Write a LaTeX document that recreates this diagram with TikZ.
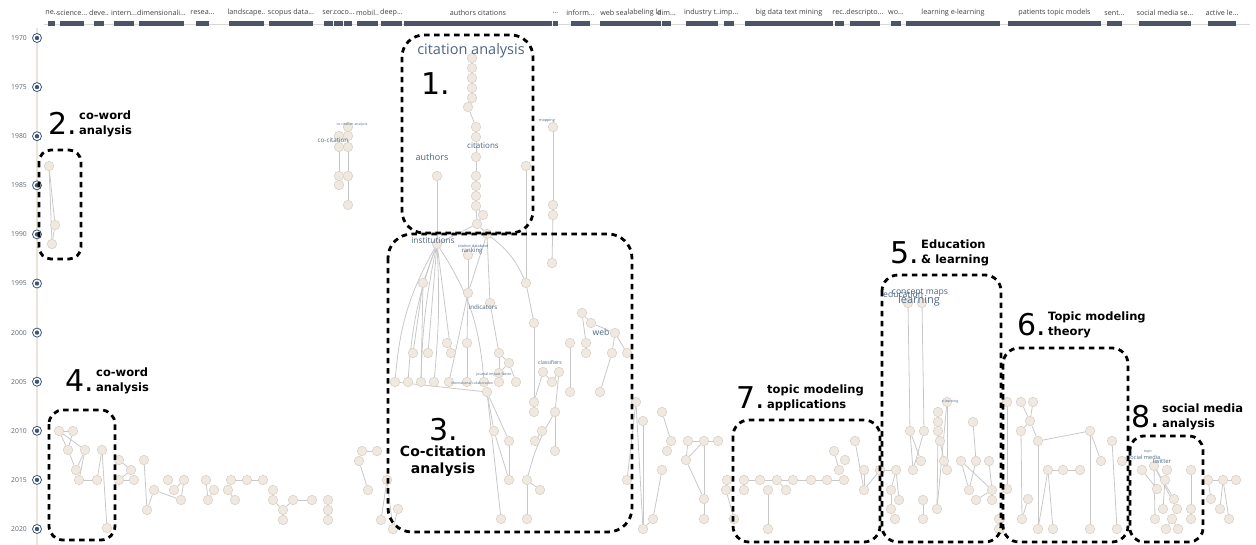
\documentclass[tikz,border=0pt]{standalone}
\usepackage{fontspec}
\setmainfont{DejaVu Sans}
\newfontfamily\tagfont{Open Sans}
\usetikzlibrary{backgrounds}
\definecolor{nodefill}{HTML}{EFE9E1}
\definecolor{nodeline}{HTML}{DAD1C6}
\definecolor{linkgray}{HTML}{C8C8C8}
\definecolor{barslate}{HTML}{4A5568}
\definecolor{termblue}{HTML}{4B6584}
\definecolor{yeargray}{HTML}{5A6472}
\definecolor{timeline}{HTML}{EAE4DB}
\definecolor{markblue}{HTML}{3E5573}
\newcommand{\topicdigit}[1]{{\mdseries\fontsize{30}{30}\selectfont #1}\hspace{2pt}}

\begin{document}
\begin{tikzpicture}[x=1pt,y=-1pt,
paper/.style={circle,fill=nodefill,draw=nodeline,line width=.6pt,minimum size=9.5pt,inner sep=0pt},
link/.style={draw=linkgray,line width=.8pt},
zone/.style={draw=black,line width=2.8pt,dash pattern=on 5.5pt off 4.5pt,rounded corners=#1},
topicmark/.style={font=\bfseries\fontsize{11.5}{15}\selectfont,anchor=base west,inner sep=0pt},
term/.style={text=termblue,inner sep=0pt,font=\tagfont\fontsize{#1}{#1}\selectfont},
striplbl/.style={text=black!75,inner sep=0pt,font=\tagfont\fontsize{7.2}{8}\selectfont},
yearring/.style={circle,draw=markblue,fill=white,line width=.8pt,minimum size=9pt,inner sep=0pt},
yearlbl/.style={text=yeargray,anchor=east,inner sep=0pt,font=\tagfont\fontsize{6.8}{7}\selectfont}]
\useasboundingbox (0,0) rectangle (1256,545);

% top strip of clusters
\draw[linkgray!70,line width=.6pt] (44,24) -- (1250,24);
\foreach \xa/\xb/\t in {48/55/{ne..},60/84/{science...},94/104/{deve..},114/134/{intern...},139/184/{dimensionali...},
  196/209/{resea...},229/264/{landscape..},269/313/{scopus data...},324/333/{ser.},334/343/{co.},344/352/{co...},
  357/378/{mobil..},381/402/{deep...},404/552/{authors citations},553/558/{\dots},571/590/{inform...},600/628/{web sea},
  628/661/{labeling la},662/671/{dim...},686/718/{industry t..},724/734/{imp...},745/833/{big data text mining},
  835/844/{rec..},850/880/{descripto...},891/901/{wo...},906/1000/{learning e-learning},1008/1101/{patients topic models},
  1107/1122/{sent...},1139/1191/{social media se...},1208/1236/{active le...}}{
  \fill[barslate] (\xa,21.5) rectangle (\xb,26.5);
  \node[striplbl] (strip\xa) at ({(\xa+\xb)/2},13) {\t};
}

% years
\foreach \yr [count=\i from 0] in {1970,1975,...,2020}{
  \node[yearring] (yr\yr) at (37,{38+49.1*\i}) {};
  \fill[markblue] (yr\yr) circle (2.2);
  \node[yearlbl] (yl\yr) at (27,{38+49.1*\i}) {\yr};
}

% papers
\foreach \n/\x/\y in {a1/472/58,a2/472/68,a3/472/78,a4/472/88,a5/472/98,a6/468/107,a7/476/127,a8/476/137,a9/476/157,
  a10/476/176,a11/476/186,a12/476/196,a13/476/206,a14/483/215,a15/477/224,a16/437/176,a17/526/166,a18/553/127,a19/553/205,a20/553/215,
  k1/339/136,k2/339/147,k3/339/176,k4/339/185,k5/348/127,k6/348/136,k7/348/147,k8/348/176,k9/348/205,
  w1/49/166,w2/55/225,w3/52/244}
  \node[paper] (\n) at (\x,\y) {};
\foreach \n/\x/\y in {b1/437/244,b2/468/255,b3/487/234,b4/423/283,b5/468/293,b6/490/303,b8/534/323,b9/582/313,b10/591/323,
  b11/615/333,b12/570/343,b13/586/343,b14/586/353,b15/612/353,b16/627/353,b17/570/392,b18/600/392,b19/447/343,b20/467/343,
  b21/413/353,b22/428/353,b23/451/353,b24/499/353,b25/509/363,b26/499/373,b27/395/382,b28/408/382,b29/421/382,b30/434/382,
  b31/449/382,b32/467/382,b33/484/382,b34/499/382,b35/516/382,b36/487/392,b37/543/372,b38/559/372,b39/552/382,b40/534/402,
  b41/534/412,b42/555/412,b43/494/431,b44/509/441,b45/542/431,b46/535/441,b47/555/451,b48/509/480,b49/527/480,b50/540/490,
  b51/501/519,b52/527/519,b53/552/263,b54/526/283}
  \node[paper] (\n) at (\x,\y) {};
\foreach \n/\x/\y in {h1/59/431,h2/73/431,h3/68/450,h4/85/450,h5/102/450,h6/76/470,h7/79/480,h8/97/480,h9/107/528,
  i1/119/460,i2/131/470,i3/119/480,i4/134/480,i5/144/460,i6/147/510,i7/154/490,i8/168/480,i9/184/480,i10/174/490,i11/181/500,
  j1/206/480,j2/214/490,j3/208/500,j4/231/480,j5/228/490,j6/235/500,j7/247/480,j8/263/480,j9/273/490,j10/273/500,j11/293/500,
  j12/312/500,j13/283/510,j14/283/520,j15/328/500,j16/328/510,j17/328/520,
  l1/362/451,l2/377/451,l3/359/461,l4/368/490,l5/381/520,l6/387/480,l8/398/509,l9/393/529}
  \node[paper] (\n) at (\x,\y) {};
\foreach \n/\x/\y in {c1/636/402,c2/643/421,c3/662/412,c4/671/441,c5/667/451,c6/662/470,c7/627/480,c8/653/519,c9/643/529,
  d1/688/441,d2/704/441,d3/718/441,d4/686/460,d5/704/499,d6/704/519,
  e1/727/480,e2/726/490,e3/734/519,e4/744/480,e5/744/490,e6/760/480,e7/777/480,e8/768/490,e9/786/490,e10/768/529,e11/793/480,
  e12/811/480,e13/827/480,e14/844/480,e15/855/441,e16/834/451,e17/845/460,e18/839/470,e19/864/470,e20/864/490,e21/880/470}
  \node[paper] (\n) at (\x,\y) {};
\foreach \n/\x/\y in {f1/908/303,f2/922/303,f3/947/402,f4/938/412,f5/938/422,f6/973/422,f7/910/431,f8/924/431,f9/938/431,
  f10/940/441,f11/921/461,f12/944/461,f13/961/461,f14/976/461,f15/989/461,f16/880/470,f17/896/470,f18/913/470,f19/947/470,
  f20/891/490,f21/969/490,f22/992/490,f23/899/500,f24/923/500,f25/976/500,f26/992/500,f27/891/509,f28/937/509,f29/895/519,
  f30/923/519,f31/1000/519,f32/1000/529,
  t1/1007/402,t2/1021/402,t3/1033/402,t4/1030/421,t5/1021/431,t6/1038/441,t7/1090/431,t8/1112/441,t9/1101/461,t10/1122/461,
  t11/1048/470,t12/1063/470,t13/1080/470,t14/1007/489,t15/1028/499,t16/1022/519,t17/1038/529,t18/1053/529,t19/1090/529,
  t20/1117/529,t21/999/519,t22/999/529,
  s0/1154/466,s1/1142/470,s2/1167/470,s3/1191/470,s4/1165/480,s5/1157/489,s6/1174/499,s7/1163/509,s8/1177/509,s9/1191/509,
  s10/1155/519,s11/1172/519,s12/1191/519,s13/1166/529,s14/1178/529,
  r1/1208/480,r2/1223/480,r3/1236/480,r4/1211/499,r5/1220/509,r6/1229/519}
  \node[paper] (\n) at (\x,\y) {};

\begin{scope}[on background layer]
\draw[timeline,line width=2pt] (37,28) -- (37,545);
\foreach \u/\v in {a1/a2,a2/a3,a3/a4,a4/a5,a5/a6,a6/a7,a7/a8,a8/a9,a9/a10,a10/a11,a11/a12,a12/a13,a13/a14,a14/a15,a13/a15,
  a15/b1,a15/b3,a16/b1,a18/a19,a19/a20,a20/b53,a17/b54,k1/k2,k2/k3,k3/k4,k5/k6,k6/k7,k7/k8,k8/k9,w1/w2,w1/w3,w2/w3,
  b1/b4,b1/b22,b1/b23,b4/b21,b4/b29,b2/b5,b5/b20,b20/b32,b5/b31,b3/b5,b3/b6,
  b6/b24,b24/b25,b25/b26,b24/b26,b26/b34,b25/b35,b54/b8,b8/b40,b40/b41,b27/b36,b36/b43,b36/b44,b44/b48,b36/b51,b43/b48,
  b37/b39,b38/b39,b38/b42,b42/b47,b45/b46,b49/b50,b49/b52,b37/b40,b19/b23,
  b9/b10,b10/b11,b11/b16,b9/b13,b13/b14,b15/b11,b12/b17,b15/b18}
  \draw[link] (\u) -- (\v);
\foreach \u/\v/\b in {b1/b27/12,b1/b28/8,b1/b29/5,b1/b30/-4,b1/b33/-14,b3/b54/-14,b42/b49/8}
  \draw[link] (\u) to[bend right=\b] (\v);
\foreach \u/\v in {h1/h2,h1/h3,h2/h3,h1/h4,h3/h6,h4/h6,h4/h7,h5/h8,h5/h9,h7/h8,i1/i2,i2/i3,i3/i4,i5/i6,i6/i7,i7/i11,i9/i10,i9/i11,
  j1/j3,j2/j3,j4/j7,j7/j8,j4/j5,j5/j6,j9/j10,j10/j13,j13/j11,j11/j12,j13/j14,l1/l2,l1/l3,l3/l4,l6/l5,l6/l9,l8/l9,
  c1/c9,c1/c7,c2/c9,c3/c4,c4/c5,c6/c8,c8/c9,d1/d2,d2/d3,d1/d4,d2/d4,d2/d5,d5/d6,d4/d5,
  e2/e3,e4/e6,e6/e7,e7/e11,e11/e12,e12/e13,e13/e14,e4/e5,e8/e10,e7/e9,e15/e20,e16/e18,e19/e20,e21/e20}
  \draw[link] (\u) -- (\v);
\foreach \u/\v in {f1/f7,f2/f8,f3/f19,f3/f28,f4/f5,f5/f9,f9/f10,f10/f12,f7/f18,f7/f11,f8/f18,f9/f28,f6/f14,f13/f21,f13/f22,
  f15/f22,f22/f25,f22/f26,f16/f17,f17/f20,f20/f27,f27/f29,f17/f23,f24/f30,f14/f21,f31/f32,
  t1/t14,t2/t4,t3/t4,t4/t6,t4/t5,t5/t16,t6/t17,t6/t7,t7/t19,t7/t9,t8/t20,t11/t12,t12/t13,t11/t18,t11/t17,t15/t16,t21/t22,
  s0/s10,s0/s6,s0/s8,s2/s4,s4/s7,s3/s9,s9/s12,s8/s11,s11/s13,s11/s14,s1/s5,
  r1/r2,r2/r3,r2/r5,r2/r6,r1/r4}
  \draw[link] (\u) -- (\v);
\end{scope}

% terms
\node[term=14.5] (tca) at (471,51) {citation analysis};
\node[term=9] (tau) at (432,157) {authors};
\node[term=8] (tci) at (483,146) {citations};
\node[term=8.3] (tin) at (433,240) {institutions};
\node[term=3.8] (tcd) at (473,246) {citation database};
\node[term=6] (tra) at (472,251) {ranking};
\node[term=6.2] (tid) at (483,307) {indicators};
\node[term=8.6] (twe) at (601,332) {web};
\node[term=5.2] (tcl) at (550,363) {classifiers};
\node[term=3.6] (tji) at (494,375) {journal impact factor};
\node[term=3.4] (tic) at (472,383) {international collaboration};
\node[term=6.3] (tcc) at (333,140) {co-citation};
\node[term=3.5] (tcca) at (352,125) {co-citation analysis};
\node[term=3.8] (tma) at (547,121) {mapping};
\node[term=8.6,anchor=west] (ted) at (883,294) {education};
\node[term=8.6] (tcm) at (920,293) {concept maps};
\node[term=11] (tle) at (919,301) {learning};
\node[term=3.5] (tel) at (950,402) {e-learning};
\node[term=5.6] (tsm) at (1144,457) {social media};
\node[term=6] (ttw) at (1162,461) {twitter};
\node[term=3.5] (tto) at (1148,452) {topic};

% zones
\draw[zone=22] (402,35) rectangle (533,233);
\draw[zone=12] (39,150) rectangle (81,259);
\draw[zone=24] (388,234) rectangle (632,532);
\draw[zone=14] (49,410) rectangle (115,540);
\draw[zone=16] (882,275) rectangle (1001,542);
\draw[zone=16] (1003,348) rectangle (1128,542);
\draw[zone=16] (733,420) rectangle (880,542);
\draw[zone=14] (1130,436) rectangle (1203,542);

\node[topicmark] (lbl1) at (421,95) {\topicdigit{1.}};
\node[topicmark] (lbl2) at (48.4,135) {\topicdigit{2.}\begin{tabular}[b]{@{}l@{}}co-word\\analysis\end{tabular}};
\node[topicmark] (lbl3) at (429,440) {\topicdigit{3.}};
\node[topicmark,font=\bfseries\fontsize{14}{17}\selectfont,align=center,anchor=north] (cap3) at (443,446) {Co-citation\\analysis};
\node[topicmark] (lbl4) at (65.4,391) {\topicdigit{4.}\begin{tabular}[b]{@{}l@{}}co-word\\analysis\end{tabular}};
\node[topicmark] (lbl5) at (890.4,264) {\topicdigit{5.}\begin{tabular}[b]{@{}l@{}}Education\\\& learning\end{tabular}};
\node[topicmark] (lbl6) at (1017.4,336) {\topicdigit{6.}\begin{tabular}[b]{@{}l@{}}Topic modeling\\theory\end{tabular}};
\node[topicmark] (lbl7) at (736.4,408) {\topicdigit{7.}\begin{tabular}[b]{@{}l@{}}topic modeling\\applications\end{tabular}};
\node[topicmark] (lbl8) at (1131.4,427) {\topicdigit{8.}\begin{tabular}[b]{@{}l@{}}social media\\analysis\end{tabular}};
\end{tikzpicture}
\end{document}
